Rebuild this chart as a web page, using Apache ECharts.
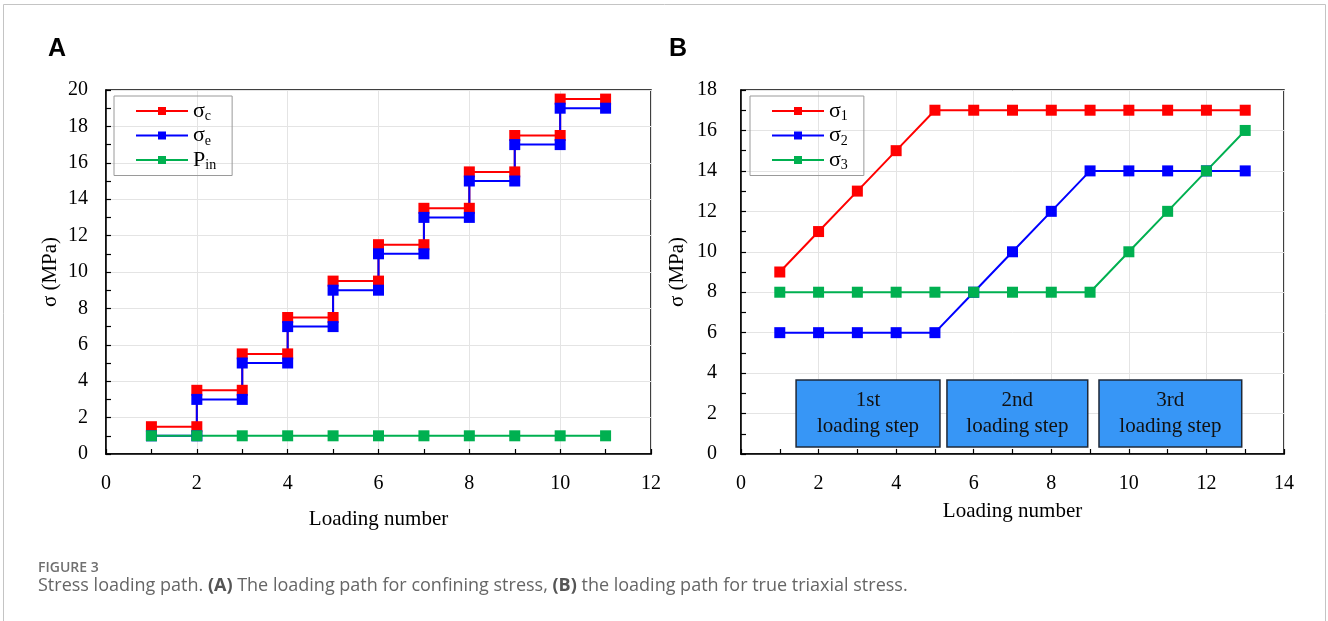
<!DOCTYPE html>
<html>
<head>
<meta charset="utf-8">
<script src="https://cdn.jsdelivr.net/npm/echarts@6/dist/echarts.min.js"></script>
<style>
  html, body { margin: 0; padding: 0; background: #fff; }
  #chart { width: 1328px; height: 621px; }
</style>
</head>
<body>
<div id="chart"></div>
<script>
// ---- Panel A: confining stress loading path ----
const loadA   = [1, 2, 2, 3, 3, 4, 4, 5, 5, 6, 6, 7, 7, 8, 8, 9, 9, 10, 10, 11];
const sigmaC  = [1.5, 1.5, 3.5, 3.5, 5.5, 5.5, 7.5, 7.5, 9.5, 9.5, 11.5, 11.5, 13.5, 13.5, 15.5, 15.5, 17.5, 17.5, 19.5, 19.5];
const sigmaE  = [1, 1, 3, 3, 5, 5, 7, 7, 9, 9, 11, 11, 13, 13, 15, 15, 17, 17, 19, 19];
const loadPin = [1, 2, 3, 4, 5, 6, 7, 8, 9, 10, 11];
const pIn     = [1, 1, 1, 1, 1, 1, 1, 1, 1, 1, 1];

// ---- Panel B: true triaxial stress loading path ----
const loadB  = [1, 2, 3, 4, 5, 6, 7, 8, 9, 10, 11, 12, 13];
const sigma1 = [9, 11, 13, 15, 17, 17, 17, 17, 17, 17, 17, 17, 17];
const sigma2 = [6, 6, 6, 6, 6, 8, 10, 12, 14, 14, 14, 14, 14];
const sigma3 = [8, 8, 8, 8, 8, 8, 8, 8, 8, 10, 12, 14, 16];

// legend symbols: base letter and subscript
const legendA = [['σ', 'c'], ['σ', 'e'], ['P', 'in']];
const legendB = [['σ', '1'], ['σ', '2'], ['σ', '3']];

// loading-step separators and step boxes (in data units)
const stepBounds = [5.18, 9.12];
const stepNames  = ['1st\nloading step', '2nd\nloading step', '3rd\nloading step'];
const stepX      = [[1.42, 5.13], [5.31, 8.94], [9.23, 12.91]];
const stepY      = [0.35, 3.66];

const serif = '"Liberation Serif", "Times New Roman", serif';
const RED = '#ff0000', BLUE = '#0000ff', GREEN = '#00b050';

const zip = (xs, ys) => xs.map((x, i) => [x, ys[i]]);

function xAxisCfg(gridIndex, max, nameGap) {
  return {
    type: 'value', gridIndex, min: 0, max, interval: 2,
    name: 'Loading number', nameLocation: 'middle', nameGap,
    nameTextStyle: { fontFamily: serif, fontSize: 21, color: '#000' },
    axisLine: { show: true, onZero: false, lineStyle: { color: '#000', width: 1.5 } },
    axisTick: { show: true, inside: true, length: 5, lineStyle: { color: '#000', width: 1.2 } },
    minorTick: { show: true, splitNumber: 2, length: 5, lineStyle: { color: '#000', width: 1.2 } },
    axisLabel: { fontFamily: serif, fontSize: 20, color: '#000', margin: 20 },
    splitLine: { show: true, lineStyle: { color: '#e4e4e4', width: 1 } }
  };
}
function yAxisCfg(gridIndex, max, nameGap, margin) {
  return {
    type: 'value', gridIndex, min: 0, max, interval: 2,
    name: 'σ (MPa)', nameLocation: 'middle', nameGap,
    nameTextStyle: { fontFamily: serif, fontSize: 21, color: '#000' },
    axisLine: { show: true, onZero: false, lineStyle: { color: '#000', width: 1.5 } },
    axisTick: { show: true, inside: true, length: 5, lineStyle: { color: '#000', width: 1.2 } },
    minorTick: { show: true, splitNumber: 2, length: 5, lineStyle: { color: '#000', width: 1.2 } },
    axisLabel: { fontFamily: serif, fontSize: 20, color: '#000', margin },
    splitLine: { show: true, lineStyle: { color: '#e4e4e4', width: 1 } }
  };
}

function lineSeries(name, data, color, xi, yi) {
  return {
    type: 'line', name, data, xAxisIndex: xi, yAxisIndex: yi,
    symbol: 'rect', symbolSize: 11, showSymbol: true,
    lineStyle: { color, width: 2 }, itemStyle: { color },
    animation: false, clip: false
  };
}

const legendRich = {
  s: { fontFamily: serif, fontSize: 22, color: '#000' },
  sub: { fontFamily: serif, fontSize: 14, color: '#000', padding: [11, 0, 0, 0] }
};
function legendCfg(left, names, labels) {
  return {
    orient: 'vertical', left, top: 96,
    data: names,
    itemWidth: 52, itemHeight: 10, itemGap: 1,
    borderColor: '#9a9a9a', borderWidth: 1,
    padding: [4, 16, 3, 21],
    formatter: n => {
      const l = labels[names.indexOf(n)];
      return '{s|' + l[0] + '}{sub|' + l[1] + '}';
    },
    textStyle: { rich: legendRich, padding: [0, 0, 0, 0] }
  };
}

const seriesA = [
  lineSeries('σc', zip(loadA, sigmaC), RED, 0, 0),
  lineSeries('σe', zip(loadA, sigmaE), BLUE, 0, 0),
  lineSeries('Pin', zip(loadPin, pIn), GREEN, 0, 0)
];

const s1 = lineSeries('σ1', zip(loadB, sigma1), RED, 1, 1);
s1.markArea = {
  silent: true,
  itemStyle: { color: '#3796f6', borderColor: '#1e2838', borderWidth: 1.5 },
  label: {
    show: true, position: 'inside', color: '#111',
    fontFamily: serif, fontSize: 21, lineHeight: 26
  },
  data: stepX.map((xs, i) => [
    { name: stepNames[i], coord: [xs[0], stepY[1]] },
    { coord: [xs[1], stepY[0]] }
  ])
};
const s2 = lineSeries('σ2', zip(loadB, sigma2), BLUE, 1, 1);
s2.markLine = {
  silent: true, symbol: 'none', animation: false,
  lineStyle: { color: '#333', width: 1, type: 'solid' },
  label: { show: false },
  data: stepBounds.map(x => [{ coord: [x, 0] }, { coord: [x, 18.2] }])
};
const s3 = lineSeries('σ3', zip(loadB, sigma3), GREEN, 1, 1);

const chart = echarts.init(document.getElementById('chart'), null, { renderer: 'canvas' });
chart.setOption({
  animation: false,
  backgroundColor: '#fff',
  grid: [
    { left: 106, top: 90, width: 545, height: 364, show: true, borderColor: '#000', borderWidth: 1.5, backgroundColor: 'transparent' },
    { left: 741, top: 90, width: 543, height: 364, show: true, borderColor: '#000', borderWidth: 1.5, backgroundColor: 'transparent' }
  ],
  xAxis: [xAxisCfg(0, 12, 55), xAxisCfg(1, 14, 47)],
  yAxis: [yAxisCfg(0, 20, 45, 18), yAxisCfg(1, 18, 53, 24)],
  legend: [
    legendCfg(114, ['σc', 'σe', 'Pin'], legendA),
    legendCfg(750, ['σ1', 'σ2', 'σ3'], legendB)
  ],
  series: [...seriesA, s1, s2, s3],
  graphic: [
    { type: 'rect', shape: { x: 3.5, y: 4.5, width: 1322, height: 640 }, style: { fill: 'none', stroke: '#c4c4c4', lineWidth: 1 }, silent: true },
    { type: 'text', left: 48, top: 37, style: { text: 'A', font: 'bold 25px "Liberation Sans", Arial, sans-serif', fill: '#000' } },
    { type: 'text', left: 669, top: 37, style: { text: 'B', font: 'bold 25px "Liberation Sans", Arial, sans-serif', fill: '#000' } },
    { type: 'text', left: 38, top: 561, style: { text: 'FIGURE 3', font: '600 14px "Open Sans", sans-serif', fill: '#707070' } },
    { type: 'text', left: 38, top: 577, style: {
        text: 'Stress loading path. {b|(A)} The loading path for confining stress, {b|(B)} the loading path for true triaxial stress.',
        font: '18px "Open Sans", sans-serif', fill: '#666',
        rich: { b: { font: 'bold 18px "Open Sans", sans-serif', fill: '#555' } }
      } }
  ]
});
</script>
</body>
</html>
